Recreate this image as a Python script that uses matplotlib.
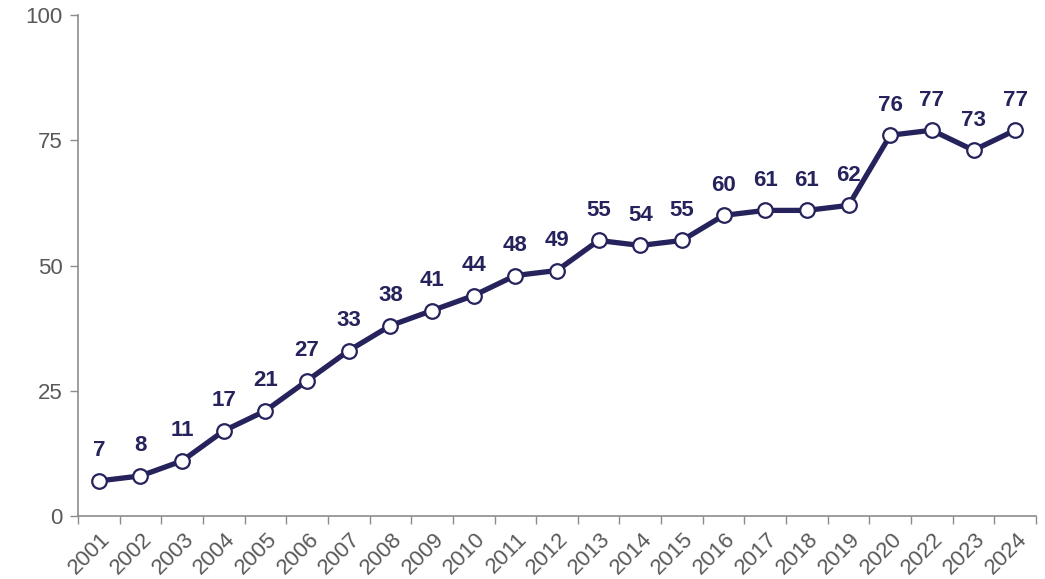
import matplotlib
matplotlib.use("Agg")
import matplotlib.pyplot as plt
from matplotlib.transforms import ScaledTranslation
import numpy as np

years = ["2001","2002","2003","2004","2005","2006","2007","2008","2009","2010","2011","2012",
         "2013","2014","2015","2016","2017","2018","2019","2020","2022","2023","2024"]
values = [7,8,11,17,21,27,33,38,41,44,48,49,55,54,55,60,61,61,62,76,77,73,77]

plt.rcParams['font.family'] = ['Liberation Sans', 'DejaVu Sans']
navy = '#25225c'
grey = '#595959'
spine = '#8c8c8c'

fig = plt.figure(figsize=(10.45, 5.79), dpi=100)
ax = fig.add_axes([78/1045, (579-516)/579, (1036-78)/1045, (516-15)/579])

x = np.arange(len(years))
ax.plot(x, values, color=navy, lw=3.8, marker='o', ms=10.5, mfc='white', mec=navy, mew=1.6, zorder=3, clip_on=False)
for xi, v in zip(x, values):
    ax.annotate(str(v), (xi, v), xytext=(0, 14), textcoords='offset points',
                ha='center', va='bottom', fontsize=16, fontweight='bold', color=navy)

ax.set_xlim(-0.5, len(years) - 0.5)
ax.set_ylim(0, 100)
ax.set_yticks([0, 25, 50, 75, 100])
ax.tick_params(axis='y', colors=spine, labelcolor=grey, labelsize=16, length=6, width=1, direction='out', pad=5)

ax.set_xticks(np.arange(-0.5, len(years), 1.0))
ax.set_xticklabels([])
ax.set_xticks(x, minor=True)
ax.set_xticklabels(years, minor=True, rotation=45, ha='right', rotation_mode='anchor', fontsize=16, color=grey)
ax.tick_params(axis='x', which='major', colors=spine, length=6, width=1, direction='out')
ax.tick_params(axis='x', which='minor', length=0, pad=9)
offset = ScaledTranslation(1/100, 0, fig.dpi_scale_trans)
for lab in ax.get_xticklabels(minor=True):
    lab.set_transform(lab.get_transform() + offset)

for s in ['top', 'right']:
    ax.spines[s].set_visible(False)
for s in ['left', 'bottom']:
    ax.spines[s].set_color(spine)
    ax.spines[s].set_linewidth(1.2)

fig.savefig("out.png", dpi=100)
